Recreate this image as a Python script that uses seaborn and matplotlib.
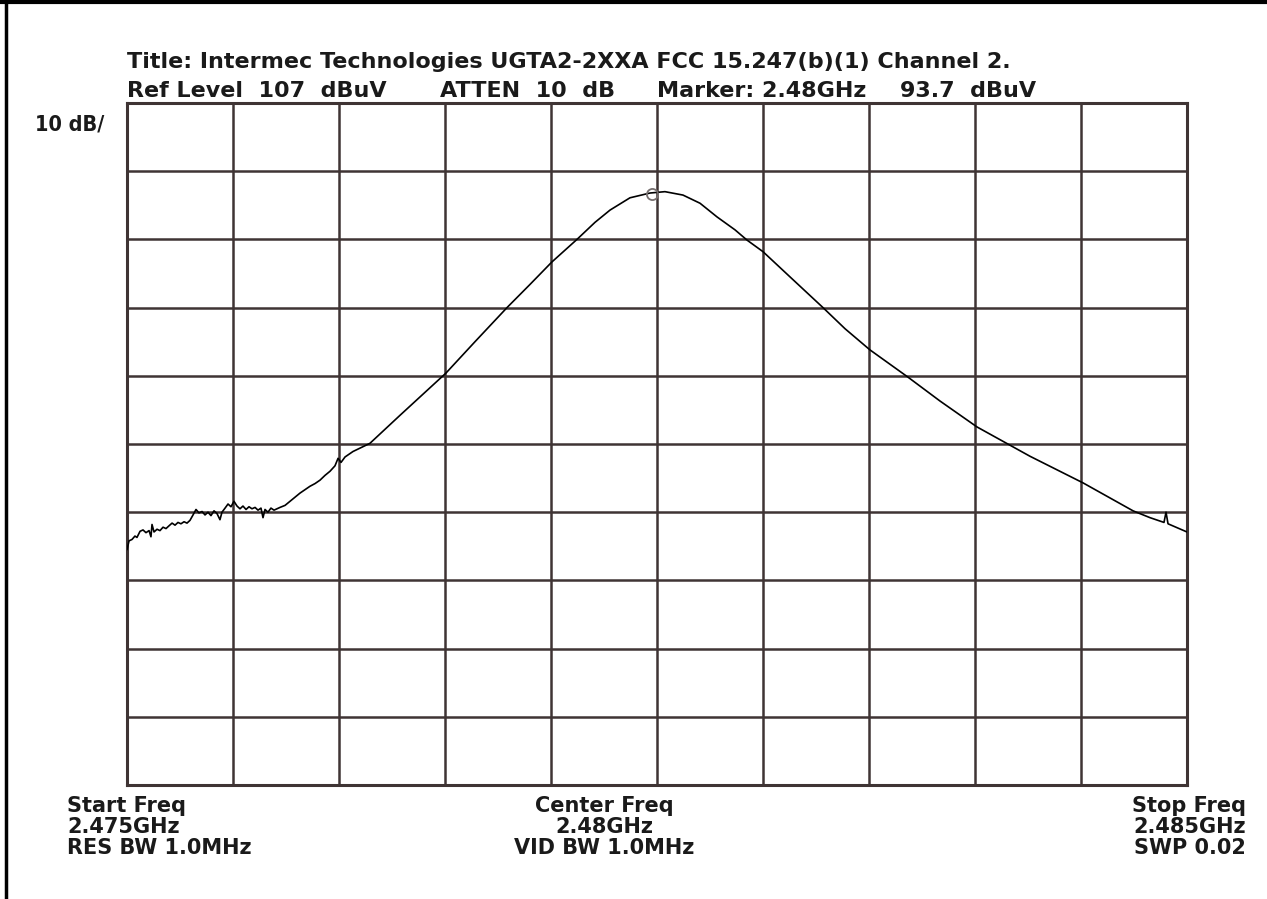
import matplotlib
matplotlib.use("Agg")
import numpy as np
import pandas as pd
import matplotlib.pyplot as plt
import seaborn as sns
from matplotlib.lines import Line2D

# Spectrum analyzer sweep (GHz, dBuV)
freq_ghz = [
    2.475000, 2.475019, 2.475047, 2.475075, 2.475094, 2.475123, 2.475151, 2.475179,
    2.475208, 2.475226, 2.475236, 2.475255, 2.475283, 2.475311, 2.475340, 2.475368,
    2.475396, 2.475425, 2.475453, 2.475481, 2.475509, 2.475538, 2.475566, 2.475594,
    2.475623, 2.475651, 2.475679, 2.475708, 2.475736, 2.475764, 2.475792, 2.475821,
    2.475849, 2.475877, 2.475896, 2.475925, 2.475953, 2.475981, 2.476009, 2.476038,
    2.476066, 2.476094, 2.476123, 2.476151, 2.476179, 2.476208, 2.476236, 2.476264,
    2.476283, 2.476302, 2.476330, 2.476358, 2.476387, 2.476415, 2.476443, 2.476491,
    2.476538, 2.476585, 2.476632, 2.476679, 2.476726, 2.476774, 2.476821, 2.476868,
    2.476915, 2.476962, 2.476991, 2.477019, 2.477057, 2.477132, 2.477292, 2.477575,
    2.477764, 2.478009, 2.478283, 2.478585, 2.478802, 2.479009, 2.479245, 2.479415,
    2.479557, 2.479745, 2.479934, 2.480075, 2.480245, 2.480406, 2.480566, 2.480736,
    2.480849, 2.481000, 2.481255, 2.481566, 2.481774, 2.482009, 2.482368, 2.482670,
    2.483019, 2.483519, 2.484019, 2.484491, 2.484651, 2.484783, 2.484802, 2.484821,
    2.485000,
]
level_dbuv = [
    41.5, 42.8, 43.0, 43.5, 43.3, 44.2, 44.4, 44.0,
    44.3, 43.4, 45.2, 44.1, 44.5, 44.3, 44.8, 44.6,
    45.0, 45.4, 45.1, 45.5, 45.3, 45.6, 45.4, 45.8,
    46.6, 47.4, 46.9, 47.1, 46.6, 47.0, 46.5, 47.2,
    46.8, 45.9, 47.0, 47.6, 48.2, 47.8, 48.6, 47.9,
    47.5, 47.9, 47.4, 47.8, 47.5, 47.7, 47.3, 47.6,
    46.2, 47.4, 47.0, 47.6, 47.3, 47.5, 47.7, 48.0,
    48.6, 49.2, 49.8, 50.3, 50.8, 51.2, 51.7, 52.4,
    53.0, 53.8, 54.9, 54.3, 55.1, 55.9, 57.1, 61.2,
    63.9, 67.4, 72.0, 77.0, 80.4, 83.7, 87.0, 89.5,
    91.3, 93.1, 93.8, 94.0, 93.5, 92.3, 90.3, 88.4,
    86.9, 85.2, 81.5, 77.0, 73.9, 70.8, 66.8, 63.3,
    59.5, 55.2, 51.3, 47.2, 46.2, 45.5, 47.0, 45.3,
    44.1,
]

marker_freq = 2.47995
marker_level = 93.7
ref_level = 107
db_per_div = 10
start_freq = 2.475
stop_freq = 2.485

title_line = "Title: Intermec Technologies UGTA2-2XXA FCC 15.247(b)(1) Channel 2."
info_parts = ["Ref Level  107  dBuV", "ATTEN  10  dB", "Marker: 2.48GHz", "93.7  dBuV"]
info_x = [127, 440, 657, 900]
left_labels = ["Start Freq", "2.475GHz", "RES BW 1.0MHz"]
center_labels = ["Center Freq", "2.48GHz", "VID BW 1.0MHz"]
right_labels = ["Stop Freq", "2.485GHz", "SWP 0.02"]

sns.set_style("white")
plt.rcParams["font.family"] = ["DejaVu Sans"]

grid_col = "#3f3434"

fig = plt.figure(figsize=(12.67, 8.99), dpi=100)
ax = fig.add_axes([127 / 1267, 1 - 785 / 899, 1060 / 1267, 682 / 899])

df = pd.DataFrame({"freq": freq_ghz, "level": level_dbuv})
sns.lineplot(data=df, x="freq", y="level", ax=ax, color="black", lw=1.2,
             estimator=None, sort=False, zorder=3)
ax.plot([marker_freq], [marker_level], marker="o", ms=8, mfc="none",
        mec="#777070", mew=1.3, zorder=4)

ax.set_xlim(start_freq, stop_freq)
ax.set_ylim(ref_level - 10 * db_per_div, ref_level)
ax.set_xticks(np.linspace(start_freq, stop_freq, 11))
ax.set_yticks(np.arange(ref_level - 10 * db_per_div, ref_level + 1, db_per_div))
ax.tick_params(length=0, labelbottom=False, labelleft=False)
ax.grid(True, color=grid_col, lw=1.8)
ax.set_xlabel("")
ax.set_ylabel("")
for s in ax.spines.values():
    s.set_color(grid_col)
    s.set_linewidth(2.2)

txt = dict(color="#1a1a1a", weight="bold")
fig.text(127 / 1267, 1 - 68 / 899, title_line, fontsize=16, **txt)
for part, px in zip(info_parts, info_x):
    fig.text(px / 1267, 1 - 97 / 899, part, fontsize=16, **txt)
fig.text(35 / 1267, 1 - 125 / 899, "10 dB/", fontsize=15.5, va="center",
         fontstretch="condensed", **txt)

for i, (l, c, r) in enumerate(zip(left_labels, center_labels, right_labels)):
    y = 1 - (806 + 21 * i) / 899
    fig.text(67 / 1267, y, l, va="center", ha="left", fontsize=15, **txt)
    fig.text(604 / 1267, y, c, va="center", ha="center", fontsize=15, **txt)
    fig.text(1246 / 1267, y, r, va="center", ha="right", fontsize=15, **txt)

# outer frame of the screenshot (top and left edges only)
fig.add_artist(Line2D([0, 1], [1 - 2 / 899, 1 - 2 / 899], color="black", lw=3,
                      transform=fig.transFigure))
fig.add_artist(Line2D([6 / 1267, 6 / 1267], [0, 1 - 2 / 899], color="black",
                      lw=2.5, transform=fig.transFigure))

fig.savefig("out.png", dpi=100, facecolor="white")
